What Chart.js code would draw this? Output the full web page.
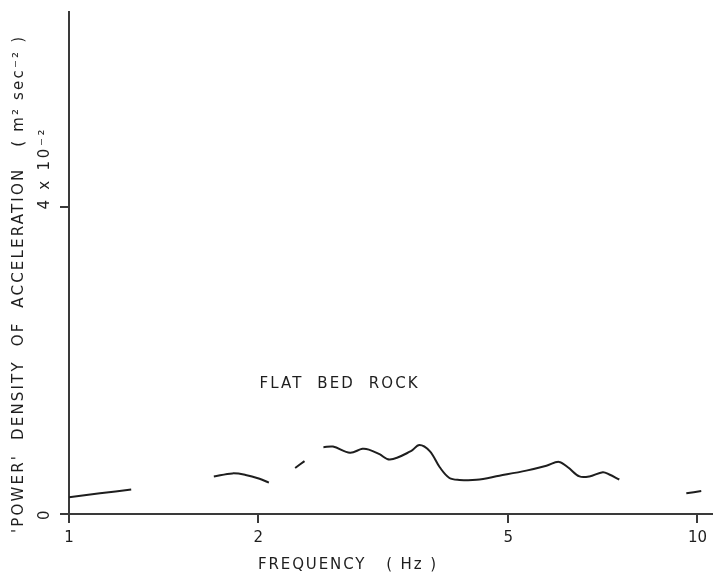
<!DOCTYPE html>
<html>
<head>
<meta charset="utf-8">
<title>Power density of acceleration - flat bed rock</title>
<script src="https://cdn.jsdelivr.net/npm/chart.js@4.4.1/dist/chart.umd.min.js"></script>
<style>
  html, body { margin: 0; padding: 0; background: #fff; }
  #wrap { position: relative; width: 713px; height: 578px; }
</style>
</head>
<body>
<div id="wrap"><canvas id="psdChart"></canvas></div>
<script>
// frequency (Hz) and 'power' density (units of 10^-2 m^2 sec^-2); null = gap in the trace
const freqHz = [
  1.0, 1.12, 1.256, 1.5,
  1.70, 1.82, 1.91, 2.01, 2.08, 2.2,
  2.29, 2.37, 2.45,
  2.54, 2.63, 2.80, 2.93, 3.0, 3.12, 3.24, 3.50, 3.61, 3.75, 3.89, 4.03, 4.18,
  4.45, 4.84, 5.34, 5.75, 6.02, 6.22, 6.49, 6.73, 7.07, 7.24, 7.51, 8.5,
  9.6, 10.14
];
const psd = [
  0.22, 0.27, 0.32, null,
  0.49, 0.53, 0.51, 0.46, 0.41, null,
  0.60, 0.69, null,
  0.87, 0.88, 0.80, 0.85, 0.84, 0.78, 0.71, 0.82, 0.90, 0.82, 0.61, 0.47, 0.445,
  0.446, 0.50, 0.566, 0.63, 0.68, 0.61, 0.49, 0.49, 0.545, 0.515, 0.45, null,
  0.27, 0.30
];

const xTicks = [1, 2, 5, 10];
const yTicks = [0, 4];
const yTickLabels = ["0", "4 x 10\u207B\u00B2"];

const xTitle = "FREQUENCY   ( Hz )";
const yTitle = "'POWER'  DENSITY  OF  ACCELERATION   ( m\u00B2 sec\u207B\u00B2 )";
const curveLabel = "FLAT  BED  ROCK";

const INK = "#1e1e1e";
const AXIS = "#3a3a3a";
const FONT = "DejaVu Sans";

function drawSpaced(ctx, text, x, y, length, angle) {
  ctx.save();
  ctx.translate(x, y);
  ctx.rotate(angle);
  ctx.letterSpacing = "0px";
  const w = ctx.measureText(text).width;
  const gap = length ? (length - w) / Math.max(text.length - 1, 1) : 0;
  ctx.letterSpacing = gap + "px";
  ctx.textAlign = "left";
  ctx.textBaseline = "middle";
  ctx.fillText(text, 0, 0);
  ctx.restore();
}

const paperText = {
  id: "paperText",
  afterDraw(chart) {
    const { ctx, scales } = chart;
    const x = scales.x;
    const y = scales.y;
    ctx.save();
    ctx.fillStyle = INK;
    ctx.font = "15px '" + FONT + "'";

    // rotated y tick labels, starting at the tick and reading upward
    yTicks.forEach((v, i) => {
      const py = y.getPixelForValue(v);
      drawSpaced(ctx, yTickLabels[i], 45, py + (i === 0 ? 6 : 2), i === 0 ? 0 : 80, -Math.PI / 2);
    });

    // axis titles
    drawSpaced(ctx, yTitle, 19, 533, 496, -Math.PI / 2);
    drawSpaced(ctx, xTitle, 258, 565, 178, 0);

    // label on the curve
    drawSpaced(ctx, curveLabel, x.getPixelForValue(2.01), y.getPixelForValue(1.69), 158, 0);
    ctx.restore();
  },
};

const ctx = document.getElementById("psdChart");

new Chart(ctx, {
  type: "line",
  data: {
    datasets: [
      {
        label: "Flat bed rock",
        data: freqHz.map((f, i) => ({ x: f, y: psd[i] })),
        borderColor: INK,
        borderWidth: 2,
        pointRadius: 0,
        tension: 0.35,
        spanGaps: false,
        fill: false,
      },
    ],
  },
  options: {
    responsive: true,
    maintainAspectRatio: false,
    animation: false,
    layout: { padding: { top: 5, right: 0, left: 0, bottom: 0 } },
    plugins: {
      legend: { display: false },
      tooltip: { enabled: false },
    },
    scales: {
      x: {
        type: "logarithmic",
        min: 1,
        max: 10.56,
        afterBuildTicks: (scale) => {
          scale.ticks = xTicks.map((v) => ({ value: v }));
        },
        afterFit: (scale) => {
          scale.height = 64;
        },
        ticks: {
          autoSkip: false,
          maxRotation: 0,
          color: INK,
          padding: 6,
          font: { family: FONT, size: 15 },
          callback: (v) => String(v),
        },
        grid: {
          drawOnChartArea: false,
          drawTicks: true,
          tickLength: 9,
          color: AXIS,
          lineWidth: 2,
        },
        border: { display: true, color: AXIS, width: 2 },
      },
      y: {
        min: 0,
        max: 6.55,
        afterBuildTicks: (scale) => {
          scale.ticks = yTicks.map((v) => ({ value: v }));
        },
        afterFit: (scale) => {
          scale.width = 69;
        },
        ticks: {
          color: "rgba(0,0,0,0)",
          font: { family: FONT, size: 15 },
        },
        grid: {
          drawOnChartArea: false,
          drawTicks: true,
          tickLength: 9,
          color: AXIS,
          lineWidth: 2,
        },
        border: { display: true, color: AXIS, width: 2 },
      },
    },
  },
  plugins: [paperText],
});
</script>
</body>
</html>
